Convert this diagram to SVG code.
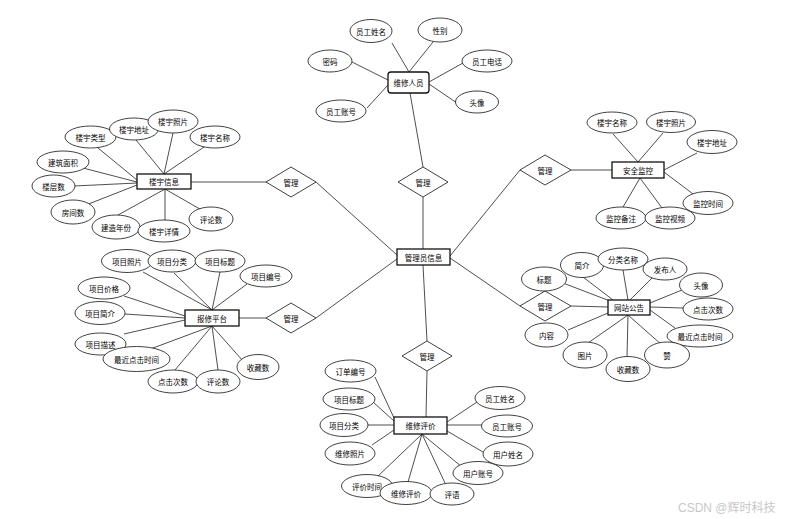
<svg xmlns="http://www.w3.org/2000/svg" width="806" height="519" viewBox="0 0 806 519">
<style>
.c line{stroke:#222;stroke-width:0.8;fill:none}
.e{fill:#fff;stroke:#111;stroke-width:0.8}
.r{fill:#fff;stroke:#111;stroke-width:1.3}
.d{fill:#fff;stroke:#111;stroke-width:0.8}
text{font-family:"Noto Sans CJK SC","Noto Sans",sans-serif;font-size:7.5px;fill:#000;text-anchor:middle;dominant-baseline:central}
.wm{font-family:"Liberation Sans","Noto Sans CJK SC",sans-serif;font-size:12px;fill:#c8c8c8;text-anchor:start}
</style>
<rect width="806" height="519" fill="#fff"/>
<g id="connectors" class="c">
<!-- 维修人员 -->
<line x1="392" y1="43" x2="409" y2="72"/>
<line x1="433" y1="42" x2="409" y2="72"/>
<line x1="352" y1="62" x2="388" y2="80"/>
<line x1="463" y1="63" x2="429" y2="82"/>
<line x1="457" y1="103" x2="429" y2="84"/>
<line x1="367" y1="108" x2="388" y2="85"/>
<line x1="410" y1="93" x2="423" y2="167"/>
<!-- center -->
<line x1="423" y1="197" x2="423" y2="249"/>
<line x1="316" y1="182" x2="397" y2="255"/>
<line x1="316" y1="318" x2="397" y2="259"/>
<line x1="450" y1="256" x2="520" y2="170"/>
<line x1="450" y1="258" x2="520" y2="306"/>
<line x1="423" y1="265" x2="427" y2="341"/>
<!-- 楼宇信息 -->
<line x1="191" y1="182" x2="266" y2="182"/>
<line x1="98" y1="148" x2="137" y2="180"/>
<line x1="136" y1="140" x2="164" y2="174"/>
<line x1="173" y1="133" x2="164" y2="174"/>
<line x1="210" y1="143" x2="164" y2="174"/>
<line x1="83" y1="168" x2="137" y2="182"/>
<line x1="74" y1="186" x2="137" y2="183"/>
<line x1="86" y1="205" x2="137" y2="185"/>
<line x1="118" y1="215" x2="165" y2="189"/>
<line x1="165" y1="189" x2="165" y2="220"/>
<line x1="165" y1="189" x2="205" y2="212"/>
<!-- 安全监控 -->
<line x1="571" y1="170" x2="612" y2="170"/>
<line x1="613" y1="134" x2="638" y2="162"/>
<line x1="663" y1="133" x2="638" y2="162"/>
<line x1="697" y1="153" x2="664" y2="170"/>
<line x1="693" y1="194" x2="664" y2="172"/>
<line x1="623" y1="207" x2="640" y2="178"/>
<line x1="662" y1="208" x2="640" y2="178"/>
<!-- 报修平台 -->
<line x1="239" y1="318" x2="266" y2="318"/>
<line x1="143" y1="272" x2="212" y2="310"/>
<line x1="174" y1="273" x2="212" y2="310"/>
<line x1="220" y1="272" x2="212" y2="310"/>
<line x1="247" y1="284" x2="212" y2="310"/>
<line x1="124" y1="296" x2="185" y2="316"/>
<line x1="125" y1="314" x2="185" y2="318"/>
<line x1="124" y1="334" x2="185" y2="320"/>
<line x1="145" y1="351" x2="212" y2="326"/>
<line x1="175" y1="370" x2="212" y2="326"/>
<line x1="218" y1="370" x2="212" y2="326"/>
<line x1="243" y1="361" x2="212" y2="326"/>
<!-- 网站公告 -->
<line x1="571" y1="306" x2="608" y2="307"/>
<line x1="563" y1="283" x2="610" y2="301"/>
<line x1="583" y1="277" x2="613" y2="300"/>
<line x1="623" y1="270" x2="628" y2="300"/>
<line x1="653" y1="277" x2="630" y2="300"/>
<line x1="682" y1="290" x2="650" y2="303"/>
<line x1="683" y1="308" x2="650" y2="307"/>
<line x1="675" y1="328" x2="650" y2="310"/>
<line x1="662" y1="345" x2="628" y2="315"/>
<line x1="627" y1="357" x2="628" y2="315"/>
<line x1="588" y1="343" x2="628" y2="315"/>
<line x1="568" y1="330" x2="608" y2="313"/>
<!-- 维修评价 -->
<line x1="427" y1="371" x2="426" y2="417"/>
<line x1="375" y1="377" x2="394" y2="418"/>
<line x1="373" y1="402" x2="394" y2="421"/>
<line x1="368" y1="425" x2="394" y2="425"/>
<line x1="372" y1="445" x2="394" y2="430"/>
<line x1="477" y1="402" x2="447" y2="422"/>
<line x1="482" y1="425" x2="447" y2="425"/>
<line x1="483" y1="452" x2="447" y2="431"/>
<line x1="462" y1="467" x2="422" y2="434"/>
<line x1="445" y1="483" x2="422" y2="434"/>
<line x1="408" y1="482" x2="422" y2="434"/>
<line x1="377" y1="477" x2="422" y2="434"/>
</g>

<g id="admin"><rect class="r" x="397" y="249" width="53" height="16"/><text x="423.5" y="257">管理员信息</text></g>

<g id="rel-top"><polygon class="d" points="423,167 448,182 423,197 398,182"/><text x="423" y="182">管理</text></g>
<g id="rel-lt"><polygon class="d" points="291,167 316,182 291,197 266,182"/><text x="291" y="182">管理</text></g>
<g id="rel-lb"><polygon class="d" points="291,303 316,318 291,333 266,318"/><text x="291" y="318">管理</text></g>
<g id="rel-bottom"><polygon class="d" points="427,341 452,356 427,371 402,356"/><text x="427" y="356">管理</text></g>
<g id="rel-rt"><polygon class="d" points="545,155 571,170 545,185 520,170"/><text x="545" y="170">管理</text></g>
<g id="rel-rb"><polygon class="d" points="545,291 571,306 545,321 520,306"/><text x="545" y="306">管理</text></g>

<g id="repairman"><rect class="r" x="388" y="72" width="41" height="21" rx="3"/><text x="408.5" y="82.5">维修人员</text></g>
<g id="a-rm-name"><ellipse class="e" cx="371" cy="31" rx="21" ry="11.5"/><text x="371" y="31">员工姓名</text></g>
<g id="a-rm-sex"><ellipse class="e" cx="440" cy="30" rx="22" ry="12"/><text x="440" y="30">性别</text></g>
<g id="a-rm-pwd"><ellipse class="e" cx="330" cy="61" rx="22" ry="11"/><text x="330" y="61">密码</text></g>
<g id="a-rm-tel"><ellipse class="e" cx="487" cy="61" rx="25" ry="11"/><text x="487" y="61">员工电话</text></g>
<g id="a-rm-avatar"><ellipse class="e" cx="477" cy="102" rx="21.5" ry="11"/><text x="477" y="102">头像</text></g>
<g id="a-rm-acct"><ellipse class="e" cx="341" cy="111" rx="25" ry="11"/><text x="341" y="111">员工账号</text></g>

<g id="building"><rect class="r" x="137" y="174" width="54" height="15"/><text x="164" y="181.5">楼宇信息</text></g>
<g id="a-b-type"><ellipse class="e" cx="90.5" cy="137" rx="25.5" ry="11"/><text x="90.5" y="137">楼宇类型</text></g>
<g id="a-b-addr"><ellipse class="e" cx="134" cy="129" rx="24.5" ry="11"/><text x="134" y="129">楼宇地址</text></g>
<g id="a-b-photo"><ellipse class="e" cx="173" cy="121.5" rx="25" ry="11.5"/><text x="173" y="121.5">楼宇照片</text></g>
<g id="a-b-name"><ellipse class="e" cx="215" cy="137" rx="25" ry="11"/><text x="215" y="137">楼宇名称</text></g>
<g id="a-b-area"><ellipse class="e" cx="63" cy="162" rx="26" ry="11"/><text x="63" y="162">建筑面积</text></g>
<g id="a-b-floors"><ellipse class="e" cx="53.5" cy="186" rx="21.5" ry="11"/><text x="53.5" y="186">楼层数</text></g>
<g id="a-b-rooms"><ellipse class="e" cx="73" cy="212" rx="22" ry="12"/><text x="73" y="212">房间数</text></g>
<g id="a-b-year"><ellipse class="e" cx="116" cy="227" rx="24" ry="12"/><text x="116" y="227">建造年份</text></g>
<g id="a-b-detail"><ellipse class="e" cx="164" cy="231" rx="26" ry="11"/><text x="164" y="231">楼宇详情</text></g>
<g id="a-b-comments"><ellipse class="e" cx="211" cy="219" rx="22" ry="12"/><text x="211" y="219">评论数</text></g>

<g id="monitor"><rect class="r" x="612" y="162" width="52" height="16"/><text x="638" y="170">安全监控</text></g>
<g id="a-m-name"><ellipse class="e" cx="612" cy="122.5" rx="25" ry="10.5"/><text x="612" y="122.5">楼宇名称</text></g>
<g id="a-m-photo"><ellipse class="e" cx="671" cy="122" rx="24.5" ry="10.5"/><text x="671" y="122">楼宇照片</text></g>
<g id="a-m-addr"><ellipse class="e" cx="712" cy="142" rx="25" ry="11.5"/><text x="712" y="142">楼宇地址</text></g>
<g id="a-m-time"><ellipse class="e" cx="708" cy="203" rx="25" ry="11.5"/><text x="708" y="203">监控时间</text></g>
<g id="a-m-note"><ellipse class="e" cx="621" cy="218" rx="25" ry="11"/><text x="621" y="218">监控备注</text></g>
<g id="a-m-video"><ellipse class="e" cx="670" cy="218" rx="25" ry="11"/><text x="670" y="218">监控视频</text></g>

<g id="platform"><rect class="r" x="185" y="310" width="54" height="16"/><text x="212" y="318">报修平台</text></g>
<g id="a-p-photo"><ellipse class="e" cx="127" cy="261" rx="25.5" ry="11.5"/><text x="127" y="261">项目照片</text></g>
<g id="a-p-cat"><ellipse class="e" cx="172" cy="261" rx="24" ry="11"/><text x="172" y="261">项目分类</text></g>
<g id="a-p-title"><ellipse class="e" cx="220" cy="261" rx="25" ry="11"/><text x="220" y="261">项目标题</text></g>
<g id="a-p-no"><ellipse class="e" cx="266" cy="276" rx="26" ry="11"/><text x="266" y="276">项目编号</text></g>
<g id="a-p-price"><ellipse class="e" cx="104" cy="288" rx="26" ry="11"/><text x="104" y="288">项目价格</text></g>
<g id="a-p-intro"><ellipse class="e" cx="100" cy="313" rx="25" ry="11.5"/><text x="100" y="313">项目简介</text></g>
<g id="a-p-desc"><ellipse class="e" cx="100.5" cy="344" rx="25.5" ry="11"/><text x="100.5" y="344">项目描述</text></g>
<g id="a-p-last"><ellipse class="e" cx="136.5" cy="359" rx="33.5" ry="12.5"/><text x="136.5" y="359">最近点击时间</text></g>
<g id="a-p-clicks"><ellipse class="e" cx="173" cy="381.5" rx="25" ry="11.5"/><text x="173" y="381.5">点击次数</text></g>
<g id="a-p-comments"><ellipse class="e" cx="218" cy="381.5" rx="22" ry="11.5"/><text x="218" y="381.5">评论数</text></g>
<g id="a-p-fav"><ellipse class="e" cx="258" cy="367" rx="21" ry="12.5"/><text x="258" y="367">收藏数</text></g>

<g id="notice"><rect class="r" x="608" y="300" width="42" height="15"/><text x="629" y="307.5">网站公告</text></g>
<g id="a-n-title"><ellipse class="e" cx="544" cy="279" rx="22.5" ry="12"/><text x="544" y="279">标题</text></g>
<g id="a-n-intro"><ellipse class="e" cx="582" cy="265" rx="21.5" ry="12.5"/><text x="582" y="265">简介</text></g>
<g id="a-n-cat"><ellipse class="e" cx="623" cy="259" rx="25" ry="11"/><text x="623" y="259">分类名称</text></g>
<g id="a-n-pub"><ellipse class="e" cx="665" cy="269" rx="22" ry="11"/><text x="665" y="269">发布人</text></g>
<g id="a-n-avatar"><ellipse class="e" cx="701" cy="285" rx="21.5" ry="12"/><text x="701" y="285">头像</text></g>
<g id="a-n-clicks"><ellipse class="e" cx="708" cy="309" rx="25" ry="11"/><text x="708" y="309">点击次数</text></g>
<g id="a-n-last"><ellipse class="e" cx="700" cy="336" rx="33" ry="11"/><text x="700" y="336">最近点击时间</text></g>
<g id="a-n-like"><ellipse class="e" cx="667" cy="355" rx="22.5" ry="13"/><text x="667" y="355">赞</text></g>
<g id="a-n-fav"><ellipse class="e" cx="628" cy="369" rx="22" ry="12.5"/><text x="628" y="369">收藏数</text></g>
<g id="a-n-img"><ellipse class="e" cx="585" cy="355" rx="22" ry="13"/><text x="585" y="355">图片</text></g>
<g id="a-n-content"><ellipse class="e" cx="546.5" cy="335" rx="21.5" ry="12"/><text x="546.5" y="335">内容</text></g>

<g id="review"><rect class="r" x="394" y="417" width="53" height="17"/><text x="420.5" y="425.5">维修评价</text></g>
<g id="a-r-order"><ellipse class="e" cx="350.5" cy="371" rx="25.5" ry="11"/><text x="350.5" y="371">订单编号</text></g>
<g id="a-r-title"><ellipse class="e" cx="349" cy="399" rx="26" ry="11"/><text x="349" y="399">项目标题</text></g>
<g id="a-r-cat"><ellipse class="e" cx="344" cy="425" rx="24" ry="11.5"/><text x="344" y="425">项目分类</text></g>
<g id="a-r-photo"><ellipse class="e" cx="350" cy="453.5" rx="25" ry="11.5"/><text x="350" y="453.5">维修照片</text></g>
<g id="a-r-ename"><ellipse class="e" cx="500" cy="398" rx="25" ry="11.5"/><text x="500" y="398">员工姓名</text></g>
<g id="a-r-eacct"><ellipse class="e" cx="507" cy="426" rx="25.5" ry="11"/><text x="507" y="426">员工账号</text></g>
<g id="a-r-uname"><ellipse class="e" cx="508" cy="454" rx="25" ry="12"/><text x="508" y="454">用户姓名</text></g>
<g id="a-r-uacct"><ellipse class="e" cx="478" cy="473" rx="25" ry="11.5"/><text x="478" y="473">用户账号</text></g>
<g id="a-r-time"><ellipse class="e" cx="367" cy="486" rx="25.5" ry="11.5"/><text x="367" y="486">评价时间</text></g>
<g id="a-r-review"><ellipse class="e" cx="406" cy="493" rx="26" ry="11.5"/><text x="406" y="493">维修评价</text></g>
<g id="a-r-comment"><ellipse class="e" cx="452" cy="494" rx="22" ry="11"/><text x="452" y="494">评语</text></g>

<text class="wm" x="678" y="508">CSDN @辉时科技</text>
</svg>
